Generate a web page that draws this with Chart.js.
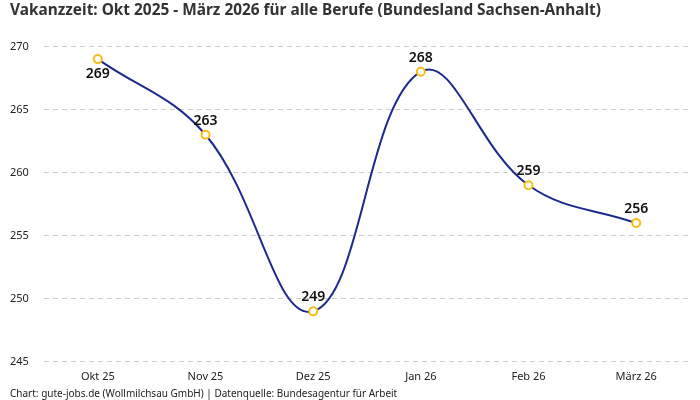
<!DOCTYPE html>
<html><head><meta charset="utf-8">
<script src="https://cdn.jsdelivr.net/npm/chart.js@4"></script>
<style>html,body{margin:0;padding:0;background:#fff}#wrap{width:700px;height:400px}</style>
</head><body><div id="wrap"><canvas id="c"></canvas></div>
<script>
const categories = ["Okt 25","Nov 25","Dez 25","Jan 26","Feb 26","März 26"];
const values = [269,263,249,268,259,256];
const yTicks = [245,250,255,260,265,270];
const titleText = "Vakanzzeit: Okt 2025 - März 2026 für alle Berufe (Bundesland Sachsen-Anhalt)";
const footerText = "Chart: gute-jobs.de (Wollmilchsau GmbH) | Datenquelle: Bundesagentur für Arbeit";

const labelPlugin = {
  id:'vlabels',
  afterDatasetsDraw(chart){
    const ctx=chart.ctx; const meta=chart.getDatasetMeta(0);
    ctx.save();
    ctx.font='600 14px "Noto Sans", sans-serif';
    ctx.fillStyle='#111';
    ctx.textAlign='center';
    meta.data.forEach((p,i)=>{
      const below = i===0;
      ctx.textBaseline = below ? 'top' : 'bottom';
      ctx.fillText(String(values[i]), p.x, below ? p.y+8 : p.y-7);
    });
    ctx.restore();
  }
};

new Chart(document.getElementById('c'),{
  type:'line',
  data:{labels:categories,datasets:[{
    data:values,
    borderColor:'#1c2a8c',
    borderWidth:2,
    tension:0.4,
    pointRadius:4,
    pointBorderWidth:2,
    pointBackgroundColor:'#ffffff',
    pointBorderColor:'#f7be16',
    fill:false
  }]},
  options:{
    responsive:true,maintainAspectRatio:false,animation:false,
    layout:{padding:{left:10,right:10,top:0,bottom:0}},
    plugins:{
      legend:{display:false},tooltip:{enabled:false},
      title:{display:true,text:titleText,align:'start',color:'#333',
        font:{family:'"Noto Sans", sans-serif',size:15.4,weight:'bold'},padding:{top:1,bottom:27}},
      subtitle:{display:true,text:footerText,position:'bottom',align:'start',color:'#222',
        font:{family:'"Noto Sans", sans-serif',size:10},padding:{top:5,bottom:0}}
    },
    scales:{
      x:{offset:true,grid:{display:false},border:{display:false},
        ticks:{color:'#222',font:{family:'"Noto Sans", sans-serif',size:11},padding:0}},
      y:{min:245,max:270,afterBuildTicks(s){s.ticks=yTicks.map(v=>({value:v}));},
        afterFit(s){s.width=34;},
        grid:{color:'#cccccc',drawTicks:false},border:{display:false,dash:[5,4]},
        ticks:{color:'#222',crossAlign:'far',font:{family:'"Noto Sans", sans-serif',size:11},padding:12}}
    }
  },
  plugins:[labelPlugin]
});
</script></body></html>
